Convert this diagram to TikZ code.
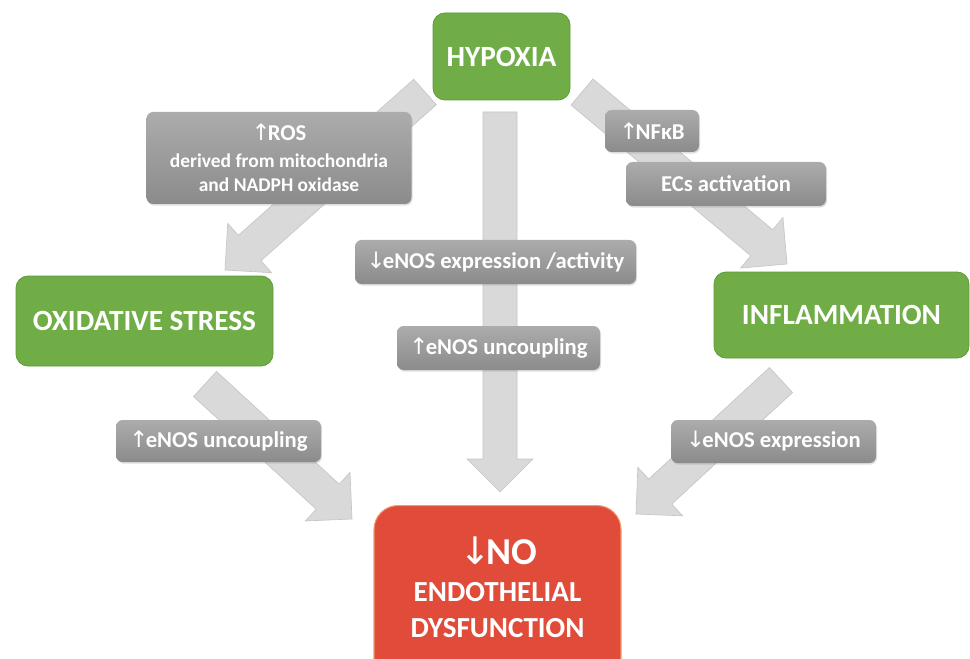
\documentclass[tikz,border=0pt]{standalone}
\usepackage{fontspec}
\setmainfont{Carlito}
\newfontfamily\arrfont{DejaVu Sans}
\usetikzlibrary{calc,shadows}
\newcommand\uarr{{\arrfont\mdseries ↑}\kern-0.12em}
\newcommand\darr{{\arrfont\mdseries ↓}\kern-0.12em}
\definecolor{grn}{HTML}{70AD47}
\definecolor{grnb}{HTML}{5E9B3A}
\definecolor{redf}{HTML}{E04B3A}
\definecolor{redb}{HTML}{EE9A6A}
\definecolor{arrf}{HTML}{D9D9D9}
\definecolor{arrb}{HTML}{C6C6C6}
\definecolor{gtop}{HTML}{ACACAC}
\definecolor{gbot}{HTML}{8B8B8B}
% block arrow from tail #1 to tip #2
\newcommand\blockarrow[2]{%
  \coordinate (ba-b) at ($(#2)!24.75pt!(#1)$);
  \filldraw[blockarr] ($(#1)!12.75pt!90:(#2)$) -- ($(ba-b)!12.75pt!90:(#2)$)
    -- ($(ba-b)!24.75pt!90:(#2)$) -- (#2) -- ($(ba-b)!24.75pt!-90:(#2)$)
    -- ($(ba-b)!12.75pt!-90:(#2)$) -- ($(#1)!12.75pt!-90:(#2)$) -- cycle;}
\begin{document}
\begin{tikzpicture}[x=0.75pt,y=-0.75pt,
  sz/.style 2 args={minimum width=#1*0.75pt, minimum height=#2*0.75pt},
  mainbox/.style={rounded corners=9pt, fill=grn, draw=grnb, line width=0.6pt,
    text=white, font=\bfseries\fontsize{22}{26}\selectfont, inner sep=0pt, align=center},
  graybox/.style={rounded corners=5pt, top color=gtop, bottom color=gbot, draw=none,
    drop shadow={opacity=0.25, shadow xshift=0.8pt, shadow yshift=-1.2pt},
    text=white, font=\bfseries\fontsize{17}{20}\selectfont, inner sep=0pt, align=center},
  redbox/.style={rounded corners=18pt, fill=redf, draw=redb, line width=0.8pt, inner sep=0pt},
  redtxt/.style={text=white, font=\bfseries\fontsize{21.8}{26}\selectfont, inner sep=0pt},
  rostxt/.style={text=white, font=\bfseries\fontsize{14.6}{17}\selectfont, inner sep=0pt},
  blockarr/.style={fill=arrf, draw=arrb, line width=0.5pt}]
\useasboundingbox (0,0) rectangle (970,659);
\clip (0,0) rectangle (970,659);

% arrow end points
\coordinate (a1t) at (425,92);  \coordinate (a1h) at (225,270);
\coordinate (a2t) at (500,112); \coordinate (a2h) at (500,492);
\coordinate (a3t) at (582,92);  \coordinate (a3h) at (787,264);
\coordinate (a4t) at (205,384); \coordinate (a4h) at (352,519);
\coordinate (a5t) at (781,380); \coordinate (a5h) at (636,514);

\blockarrow{a1t}{a1h}
\blockarrow{a2t}{a2h}
\blockarrow{a3t}{a3h}
\blockarrow{a4t}{a4h}
\blockarrow{a5t}{a5h}

% main boxes
\node[mainbox, sz={137}{87}] (hyp) at (501.5,56.5) {HYPOXIA};
\node[mainbox, sz={257}{90}] (ox) at (144.5,321) {OXIDATIVE STRESS};
\node[mainbox, sz={255}{86}] (infl) at (841.5,315) {INFLAMMATION};

% red box
\node[redbox, sz={247}{180}, anchor=north] (no) at (497.5,505) {};
\node[redtxt, font=\bfseries\fontsize{28.5}{32}\selectfont] (nol1) at (498,551) {\darr NO};
\node[redtxt] (nol2) at (497.5,592) {ENDOTHELIAL};
\node[redtxt] (nol3) at (497.5,628) {DYSFUNCTION};

% gray label boxes
\node[graybox, sz={265}{92}] (ros) at (279,158) {};
\node[rostxt, font=\bfseries\fontsize{17}{20}\selectfont] (rosl1) at (279,132) {\uarr ROS};
\node[rostxt] (rosl2) at (279,161) {derived from mitochondria};
\node[rostxt] (rosl3) at (279,185) {and NADPH oxidase};
\node[graybox, sz={94}{42}] (nfkb) at (652,131) {\uarr NFκB};
\node[graybox, sz={200}{44}] (ecs) at (726,184) {ECs activation};
\node[graybox, sz={281}{44}] (enosa) at (495.5,262) {\darr eNOS expression /activity};
\node[graybox, sz={203}{44}] (uncc) at (498.5,348) {\uarr eNOS uncoupling};
\node[graybox, sz={205}{42}] (uncl) at (218.5,441) {\uarr eNOS uncoupling};
\node[graybox, sz={205}{43}] (expr) at (773.5,441.5) {\darr eNOS expression};
\end{tikzpicture}
\end{document}
